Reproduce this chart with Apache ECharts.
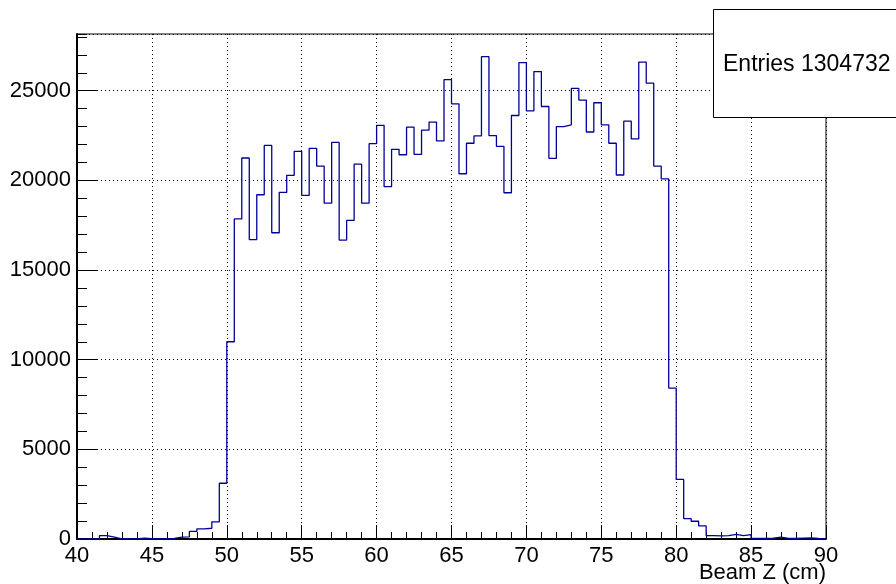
<!DOCTYPE html>
<html>
<head>
<meta charset="utf-8">
<script src="https://cdn.jsdelivr.net/npm/echarts@6/dist/echarts.min.js"></script>
<style>
  html, body { margin: 0; padding: 0; background: #fff; }
  #chart { width: 896px; height: 584px; }
</style>
</head>
<body>
<div id="chart"></div>
<script>
// Histogram binning: 100 bins of 0.5 cm from 40 to 90 cm
const binStart = 40;
const binWidth = 0.5;

// Counts per bin (Beam Z)
const counts = [
  0, 0, 0, 190, 110, 10, 10, 10, 50, 20,
  10, 20, 40, 100, 120, 420, 560, 600, 960, 3110,
  11000, 17850, 21250, 16700, 19200, 21950, 17080, 19330, 20280, 21620,
  19160, 21790, 20800, 18730, 22120, 16670, 17770, 20910, 18730, 22050,
  23070, 19650, 21730, 21430, 22970, 21450, 22800, 23250, 22200, 25620,
  24270, 20370, 22070, 22480, 26900, 22500, 21900, 19310, 23620, 26570,
  23880, 26070, 24120, 21230, 23000, 23100, 25130, 24480, 22700, 24330,
  23100, 22070, 20300, 23300, 22310, 26600, 25420, 20800, 20090, 8410,
  3320, 1140, 990, 730, 190, 170, 190, 260, 190, 240,
  30, 30, 50, 110, 30, 30, 50, 60, 30, 20
];

const xTitle = 'Beam Z (cm)';
const statsLabel = 'Entries 1304732';

const FONT = '"Liberation Sans", Arial, Helvetica, sans-serif';

// Outline of the histogram as a step line: start on the baseline,
// one point per bin lower edge, then close at the upper edge.
const outline = [[binStart, 0]];
counts.forEach((c, i) => outline.push([binStart + i * binWidth, c]));
const xEnd = binStart + counts.length * binWidth;
outline.push([xEnd, counts[counts.length - 1]]);
outline.push([xEnd, 0]);

const yMax = Math.max(...counts) * 1.047;

const chart = echarts.init(document.getElementById('chart'), null, { renderer: 'canvas' });

const dotted = { color: '#000', width: 1, type: [1, 3] };
const plain = (v) => String(Math.round(v));

chart.setOption({
  animation: false,
  backgroundColor: '#fff',
  grid: {
    left: 77, right: 70, top: 34, bottom: 45,
    show: true, borderColor: '#000', borderWidth: 1, backgroundColor: 'transparent'
  },
  xAxis: {
    type: 'value', min: binStart, max: xEnd, interval: 5,
    axisLine: { show: true, onZero: false, lineStyle: { color: '#000', width: 2 } },
    axisTick: { show: true, inside: true, length: 14, lineStyle: { color: '#000', width: 1 } },
    minorTick: { show: true, splitNumber: 5, length: 7, lineStyle: { color: '#000', width: 1 } },
    axisLabel: { color: '#000', fontSize: 22, fontFamily: FONT, margin: 6, formatter: plain },
    splitLine: { show: true, lineStyle: dotted },
    minorSplitLine: { show: false }
  },
  yAxis: [
    {
      type: 'value', min: 0, max: yMax, interval: 5000, position: 'left',
      axisLine: { show: true, lineStyle: { color: '#000', width: 2 } },
      axisTick: { show: true, inside: true, length: 20, lineStyle: { color: '#000', width: 1 } },
      axisLabel: { color: '#000', fontSize: 22, fontFamily: FONT, margin: 6, showMaxLabel: false, formatter: plain },
      splitLine: { show: true, lineStyle: dotted }
    },
    {
      // finer 1000-count ticks on the same axis line
      type: 'value', min: 0, max: yMax, interval: 1000, position: 'left', offset: 0,
      axisLine: { show: false },
      axisTick: { show: true, inside: true, length: 10, lineStyle: { color: '#000', width: 1 } },
      axisLabel: { show: false },
      splitLine: { show: false }
    }
  ],
  series: [{
    type: 'line',
    data: outline,
    yAxisIndex: 0,
    step: 'end',
    symbol: 'none',
    lineStyle: { color: '#000099', width: 1.3 },
    z: 5
  }],
  graphic: [
    {
      type: 'text', z: 20,
      x: 826, y: 562,
      style: { text: xTitle, font: '22px ' + FONT, fill: '#000', align: 'right', verticalAlign: 'top' }
    },
    {
      type: 'rect', z: 30,
      shape: { x: 713.5, y: 9.5, width: 200, height: 108 },
      style: { fill: '#fff', stroke: '#000', lineWidth: 1 }
    },
    {
      type: 'text', z: 31,
      x: 723, y: 64.5,
      style: { text: statsLabel, font: '23px ' + FONT, fill: '#000', align: 'left', verticalAlign: 'middle' }
    }
  ]
});
</script>
</body>
</html>
